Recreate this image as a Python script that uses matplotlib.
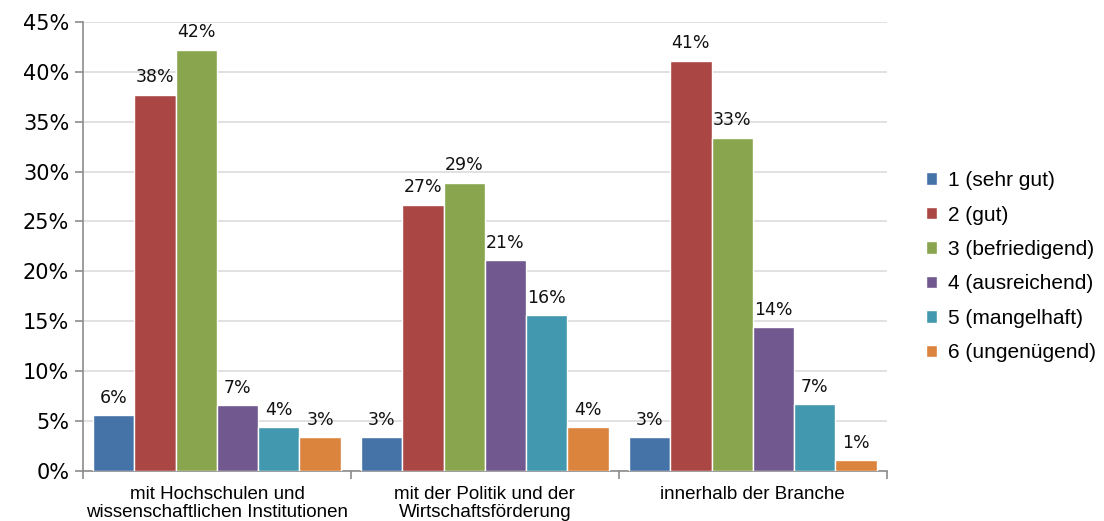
import matplotlib
matplotlib.use("Agg")
import matplotlib.pyplot as plt
import numpy as np

categories = ["mit Hochschulen und\nwissenschaftlichen Institutionen",
              "mit der Politik und der\nWirtschaftsförderung",
              "innerhalb der Branche"]
series_names = ["1 (sehr gut)", "2 (gut)", "3 (befriedigend)",
                "4 (ausreichend)", "5 (mangelhaft)", "6 (ungenügend)"]
# Percent values per rating, one list per category
values = [
    [5.6, 37.7, 42.2, 6.6, 4.4, 3.4],
    [3.4, 26.7, 28.9, 21.1, 15.6, 4.4],
    [3.4, 41.1, 33.4, 14.4, 6.7, 1.1],
]
colors = ["#4572A7", "#AA4643", "#89A54E", "#71588F", "#4198AF", "#DB843D"]
yticks = [0, 5, 10, 15, 20, 25, 30, 35, 40, 45]

fig = plt.figure(figsize=(11.04, 5.21), dpi=100)
ax = fig.add_axes([0.0752, 0.096, 0.728, 0.862])

n_series = len(series_names)
bar_w = 0.154
x0 = np.arange(len(categories))
for s in range(n_series):
    vals = [values[c][s] for c in range(len(categories))]
    xs = x0 + (s - (n_series - 1) / 2) * bar_w
    ax.bar(xs, vals, width=bar_w, color=colors[s], edgecolor="white",
           linewidth=1.0, label=series_names[s], zorder=3)
    for xb, v in zip(xs, vals):
        ax.annotate(f"{v:.0f}%", (xb, v), xytext=(0, 6), textcoords="offset points",
                    ha="center", va="bottom", fontsize=12.5, family="DejaVu Sans",
                    color="#111111")

ax.set_xlim(-0.5, len(categories) - 0.5)
ax.set_ylim(0, 45)
ax.set_yticks(yticks)
ax.set_yticklabels([f"{t}%" for t in yticks], fontsize=15, family="DejaVu Sans")
ax.yaxis.grid(True, color="#dcdcdc", linewidth=1.2, zorder=0)
ax.set_axisbelow(True)

# Category labels centred under groups, tick marks at group boundaries
ax.set_xticks(np.arange(-0.5, len(categories), 1.0))
ax.set_xticklabels([])
ax.set_xticks(x0, minor=True)
ax.set_xticklabels(categories, minor=True, fontsize=13.5, family="Liberation Sans",
                   linespacing=1.05)
ax.tick_params(axis="x", which="minor", length=0, pad=11)
ax.tick_params(axis="x", which="major", length=6, color="#8c8c8c", width=1.2)
ax.tick_params(axis="y", length=6, color="#8c8c8c", width=1.2, pad=4)

for side in ["top", "right"]:
    ax.spines[side].set_visible(False)
for side in ["left", "bottom"]:
    ax.spines[side].set_color("#8c8c8c")
    ax.spines[side].set_linewidth(1.2)

leg = ax.legend(loc="center left", bbox_to_anchor=(1.025, 0.455), frameon=False,
                prop={"family": "Liberation Sans", "size": 15},
                handlelength=0.55, handleheight=0.55, handletextpad=0.55,
                labelspacing=0.74)

fig.savefig("out.png", dpi=100)
